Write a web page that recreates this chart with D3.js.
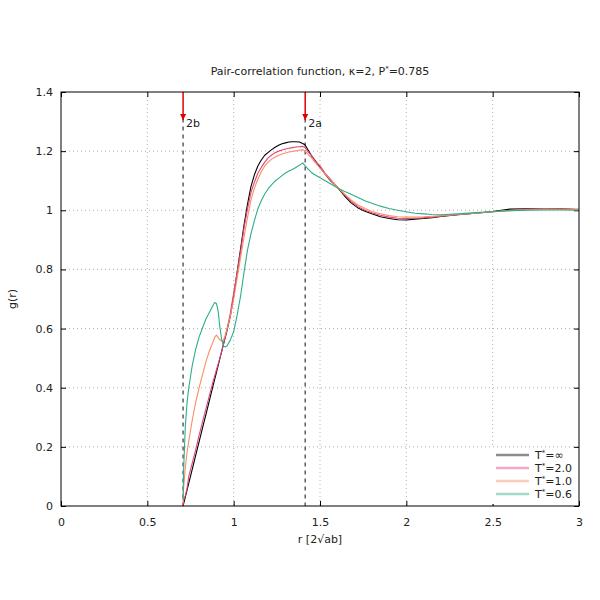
<!DOCTYPE html>
<html>
<head>
<meta charset="utf-8">
<script src="https://cdn.jsdelivr.net/npm/d3@7"></script>
<style>
  body { margin: 0; background: #fff; }
  text { font-family: "DejaVu Sans", sans-serif; font-size: 11px; fill: #222; }
</style>
</head>
<body>
<div id="chart"></div>
<script>
// r grid [2 sqrt(ab)] shared by all series
const rValues = [0.707, 0.71, 0.72, 0.73, 0.74, 0.76, 0.78, 0.80, 0.82, 0.84, 0.86, 0.88, 0.89, 0.90,
  0.91, 0.92, 0.93, 0.94, 0.95, 0.96, 0.98, 1.00, 1.02, 1.04, 1.06, 1.08, 1.10, 1.12, 1.14, 1.16,
  1.18, 1.20, 1.22, 1.24, 1.26, 1.28, 1.30, 1.32, 1.34, 1.36, 1.38, 1.40, 1.414, 1.43, 1.45, 1.47,
  1.50, 1.53, 1.56, 1.60, 1.64, 1.68, 1.72, 1.76, 1.80, 1.85, 1.90, 1.95, 2.00, 2.05, 2.10, 2.15,
  2.20, 2.30, 2.40, 2.50, 2.60, 2.70, 2.80, 2.90, 3.00];

const gInf = [0.0, 0.007, 0.03, 0.054, 0.077, 0.124, 0.171, 0.218, 0.265, 0.311, 0.358, 0.405, 0.428, 0.451,
  0.475, 0.498, 0.521, 0.545, 0.567, 0.59, 0.64, 0.71, 0.79, 0.87, 0.95, 1.02, 1.08, 1.12, 1.15, 1.17,
  1.186, 1.196, 1.205, 1.213, 1.22, 1.225, 1.228, 1.231, 1.232, 1.232, 1.231, 1.226, 1.221, 1.205, 1.185, 1.17,
  1.145, 1.122, 1.10, 1.078, 1.05, 1.025, 1.008, 0.997, 0.988, 0.978, 0.972, 0.968, 0.967, 0.970, 0.972, 0.975,
  0.979, 0.985, 0.99, 0.996, 1.004, 1.005, 1.004, 1.006, 1.002];

const g20 = [0.0, 0.02, 0.035, 0.06, 0.10, 0.145, 0.19, 0.24, 0.285, 0.33, 0.375, 0.42, 0.44, 0.46,
  0.48, 0.50, 0.522, 0.545, 0.57, 0.595, 0.65, 0.72, 0.79, 0.86, 0.94, 1.005, 1.06, 1.095, 1.125, 1.145,
  1.163, 1.177, 1.187, 1.195, 1.20, 1.204, 1.207, 1.21, 1.212, 1.214, 1.215, 1.216, 1.212, 1.198, 1.186, 1.168,
  1.15, 1.125, 1.105, 1.078, 1.054, 1.03, 1.012, 1.0, 0.992, 0.983, 0.977, 0.973, 0.972, 0.973, 0.975, 0.977,
  0.98, 0.986, 0.99, 0.995, 1.0, 1.003, 1.004, 1.004, 1.003];

const g10 = [0.01, 0.06, 0.13, 0.18, 0.22, 0.29, 0.35, 0.40, 0.445, 0.49, 0.525, 0.555, 0.57, 0.578,
  0.57, 0.562, 0.558, 0.56, 0.575, 0.595, 0.64, 0.70, 0.77, 0.84, 0.91, 0.975, 1.035, 1.075, 1.105, 1.13,
  1.15, 1.163, 1.173, 1.18, 1.186, 1.19, 1.194, 1.197, 1.199, 1.201, 1.203, 1.205, 1.20, 1.19, 1.178, 1.163,
  1.143, 1.122, 1.103, 1.078, 1.056, 1.035, 1.018, 1.006, 0.996, 0.988, 0.982, 0.978, 0.977, 0.977, 0.978, 0.98,
  0.982, 0.986, 0.99, 0.995, 0.999, 1.002, 1.003, 1.004, 1.003];

const g06 = [0.02, 0.12, 0.27, 0.35, 0.40, 0.475, 0.53, 0.572, 0.603, 0.633, 0.655, 0.678, 0.688, 0.685,
  0.66, 0.605, 0.565, 0.542, 0.538, 0.54, 0.56, 0.59, 0.645, 0.71, 0.79, 0.865, 0.92, 0.965, 1.005, 1.032,
  1.055, 1.073, 1.087, 1.099, 1.108, 1.117, 1.126, 1.133, 1.138, 1.145, 1.152, 1.16, 1.15, 1.14, 1.128, 1.12,
  1.11, 1.10, 1.09, 1.076, 1.064, 1.054, 1.043, 1.032, 1.024, 1.014, 1.006, 1.0, 0.995, 0.99, 0.988, 0.986,
  0.985, 0.988, 0.992, 0.995, 0.999, 1.0, 1.001, 1.001, 1.0];

const seriesNames = ["∞", "2.0", "1.0", "0.6"];
const seriesColors = ["#000000", "#e0457f", "#fc8d62", "#2eae87"];
const seriesValues = [gInf, g20, g10, g06];

const xTicks = [0, 0.5, 1, 1.5, 2, 2.5, 3];
const yTicks = [0, 0.2, 0.4, 0.6, 0.8, 1.0, 1.2, 1.4];

// marked distances: 2b and 2a in units of 2 sqrt(ab) for kappa = 2
const markers = [{ label: "2b", r: Math.SQRT1_2 }, { label: "2a", r: Math.SQRT2 }];

const width = 600, height = 600;
const margin = { top: 92, right: 21, bottom: 94, left: 61 };
const innerW = width - margin.left - margin.right;
const innerH = height - margin.top - margin.bottom;

const svg = d3.select("#chart").append("svg")
  .attr("width", width)
  .attr("height", height);

svg.append("defs").append("marker")
  .attr("id", "arrow")
  .attr("viewBox", "0 0 10 10")
  .attr("refX", 10).attr("refY", 5)
  .attr("markerWidth", 8).attr("markerHeight", 6)
  .attr("markerUnits", "userSpaceOnUse")
  .attr("orient", "auto")
  .append("path")
  .attr("d", "M0,0 L10,5 L0,10 z")
  .attr("fill", "#e00000");

const g = svg.append("g")
  .attr("transform", `translate(${margin.left},${margin.top})`);

const x = d3.scaleLinear().domain([0, 3]).range([0, innerW]);
const y = d3.scaleLinear().domain([0, 1.4]).range([innerH, 0]);

// grid
g.append("g").selectAll("line")
  .data(xTicks.slice(1, -1))
  .join("line")
  .attr("x1", d => x(d)).attr("x2", d => x(d))
  .attr("y1", 0).attr("y2", innerH)
  .attr("stroke", "#b0b0b0").attr("stroke-width", 1)
  .attr("stroke-dasharray", "1,3");

g.append("g").selectAll("line")
  .data(yTicks.slice(1, -1))
  .join("line")
  .attr("x1", 0).attr("x2", innerW)
  .attr("y1", d => y(d)).attr("y2", d => y(d))
  .attr("stroke", "#b0b0b0").attr("stroke-width", 1)
  .attr("stroke-dasharray", "1,3");

// axes with inward ticks on all four sides
const xAxis = g.append("g")
  .attr("transform", `translate(0,${innerH})`)
  .call(d3.axisBottom(x).tickValues(xTicks).tickSize(-5).tickPadding(12).tickFormat(d3.format("")));
const xAxisTop = g.append("g")
  .call(d3.axisTop(x).tickValues(xTicks).tickSize(-5).tickFormat(""));
const yAxis = g.append("g")
  .call(d3.axisLeft(y).tickValues(yTicks).tickSize(-5).tickPadding(8).tickFormat(d3.format("")));
const yAxisRight = g.append("g")
  .attr("transform", `translate(${innerW},0)`)
  .call(d3.axisRight(y).tickValues(yTicks).tickSize(-5).tickFormat(""));

[xAxis, xAxisTop, yAxis, yAxisRight].forEach(a => {
  a.select(".domain").remove();
  a.selectAll(".tick line").attr("stroke", "#000");
  a.selectAll("text").style("font-size", "11px").attr("fill", "#222");
});

// dashed marker lines
g.append("g").selectAll("line")
  .data(markers)
  .join("line")
  .attr("x1", d => x(d.r)).attr("x2", d => x(d.r))
  .attr("y1", y(1.31)).attr("y2", innerH)
  .attr("stroke", "#555").attr("stroke-width", 1.4)
  .attr("stroke-dasharray", "4,4");

// curves
const line = d3.line()
  .x((d, i) => x(rValues[i]))
  .y(d => y(d));

g.append("g").selectAll("path")
  .data(seriesValues)
  .join("path")
  .attr("d", d => line(d))
  .attr("fill", "none")
  .attr("stroke", (d, i) => seriesColors[i])
  .attr("stroke-width", 1.1)
  .attr("stroke-linejoin", "round");

// red arrows
g.append("g").selectAll("line")
  .data(markers)
  .join("line")
  .attr("x1", d => x(d.r)).attr("x2", d => x(d.r))
  .attr("y1", 0).attr("y2", y(1.305))
  .attr("stroke", "#e00000").attr("stroke-width", 1.5)
  .attr("marker-end", "url(#arrow)");

g.append("g").selectAll("text")
  .data(markers)
  .join("text")
  .attr("x", d => x(d.r) + 3)
  .attr("y", y(1.305) + 7)
  .text(d => d.label);

// frame
g.append("rect")
  .attr("width", innerW).attr("height", innerH)
  .attr("fill", "none").attr("stroke", "#000").attr("stroke-width", 1);

// legend
const legend = g.append("g")
  .attr("transform", `translate(${innerW - 93},${innerH - 58})`);
legend.append("rect")
  .attr("width", 92).attr("height", 56)
  .attr("fill", "#fff");
const rows = legend.selectAll("g.row")
  .data(seriesNames)
  .join("g")
  .attr("class", "row")
  .attr("transform", (d, i) => `translate(0,${7 + i * 13})`);
rows.append("line")
  .attr("x1", 10).attr("x2", 43)
  .attr("stroke", (d, i) => seriesColors[i])
  .attr("stroke-width", 2.5)
  .attr("stroke-opacity", 0.45);
const lt = rows.append("text")
  .attr("x", 49).attr("dy", "0.35em");
lt.append("tspan").text("T");
lt.append("tspan").attr("dy", -4).style("font-size", "7px").text("*");
lt.append("tspan").attr("dy", 4).text(d => "=" + d);

// title
const title = svg.append("text")
  .attr("x", margin.left + innerW / 2)
  .attr("y", 75)
  .attr("text-anchor", "middle");
title.append("tspan").text("Pair-correlation function, κ=2, P");
title.append("tspan").attr("dy", -4).style("font-size", "7px").text("*");
title.append("tspan").attr("dy", 4).text("=0.785");

// axis labels
svg.append("text")
  .attr("x", margin.left + innerW / 2)
  .attr("y", 543)
  .attr("text-anchor", "middle")
  .text("r [2√ab]");

svg.append("text")
  .attr("transform", `translate(16,${margin.top + innerH / 2}) rotate(-90)`)
  .attr("text-anchor", "middle")
  .text("g(r)");
</script>
</body>
</html>
